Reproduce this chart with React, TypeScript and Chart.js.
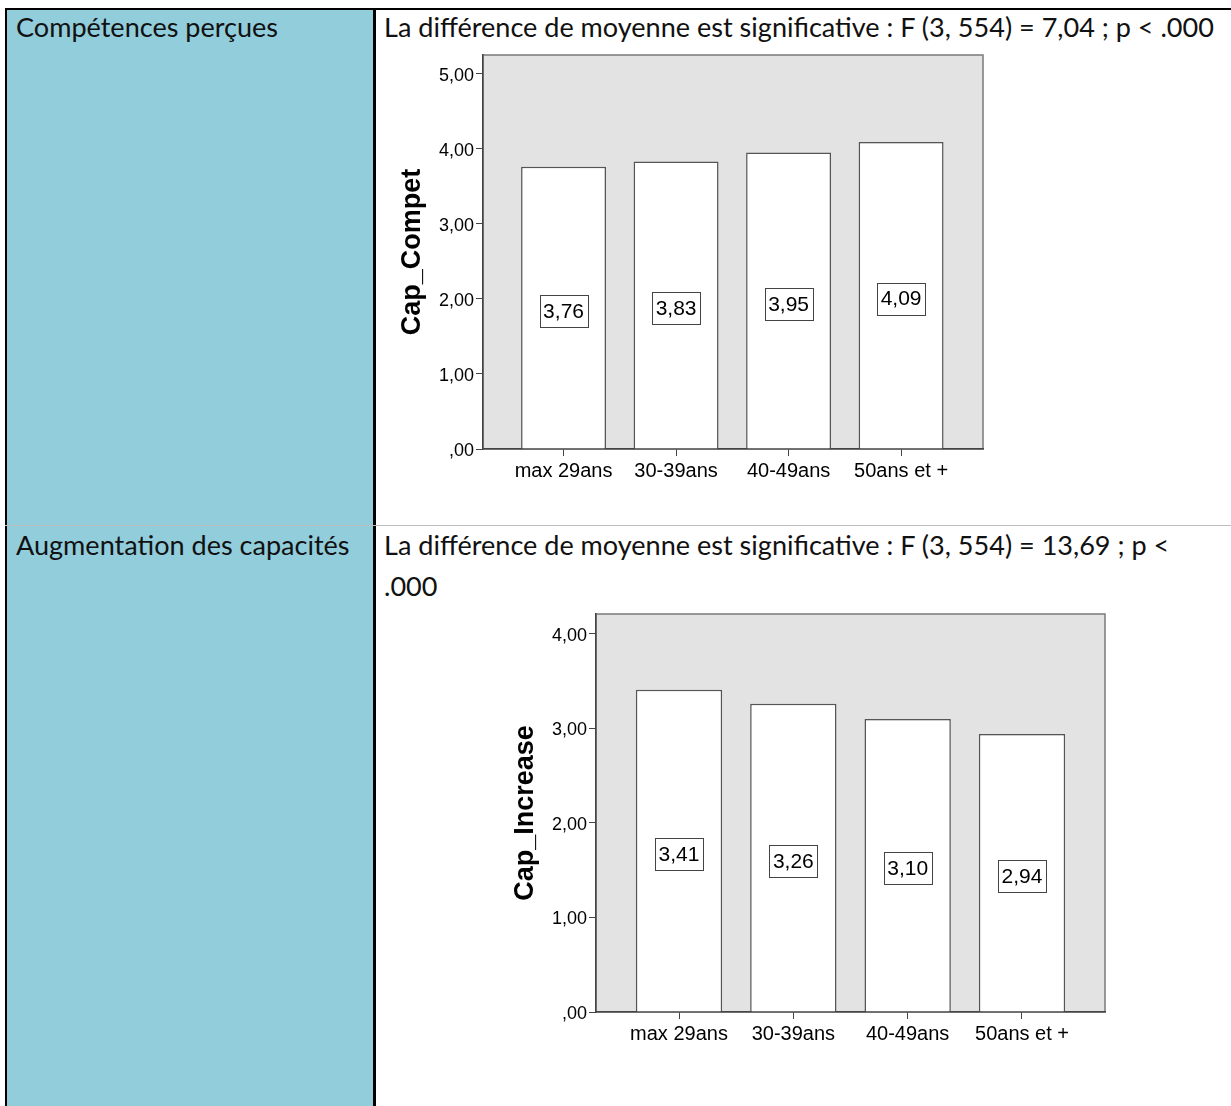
import React, { useEffect, useRef } from "react";
import { Chart, registerables } from "chart.js";

Chart.register(...registerables);

// ---- data ----
const categories = ["max 29ans", "30-39ans", "40-49ans", "50ans et +"];
const competValues = [3.76, 3.83, 3.95, 4.09];
const increaseValues = [3.41, 3.26, 3.1, 2.94];
const competTicks = [0, 1, 2, 3, 4, 5];
const increaseTicks = [0, 1, 2, 3, 4];
const rowLabels = ["Compétences perçues", "Augmentation des capacités"];
const statLine1 = "La différence de moyenne est significative : F (3, 554) = 7,04 ; p < .000";
const statLine2a = "La différence de moyenne est significative : F (3, 554) = 13,69 ; p <";
const statLine2b = ".000";
const yTitles = ["Cap_Compet", "Cap_Increase"];

const FONT = '"Liberation Sans", Arial, sans-serif';
const TEXT_FONT = 'Lato, "Noto Sans", sans-serif';

function fmt(v: number): string {
  const s = v.toFixed(2).replace(".", ",");
  return s.startsWith("0") ? s.slice(1) : s;
}

const framePlugin = {
  id: "frame",
  beforeDraw(chart: any) {
    const { ctx, chartArea: a } = chart;
    ctx.save();
    ctx.fillStyle = "#e3e3e3";
    ctx.fillRect(a.left, a.top, a.right - a.left, a.bottom - a.top);
    ctx.strokeStyle = "#7a7a7a";
    ctx.lineWidth = 1.5;
    ctx.strokeRect(a.left, a.top, a.right - a.left, a.bottom - a.top);
    ctx.restore();
  },
};

const labelPlugin = {
  id: "boxLabels",
  afterDatasetsDraw(chart: any) {
    const { ctx } = chart;
    const ys = chart.scales.y;
    const meta = chart.getDatasetMeta(0);
    const data = chart.data.datasets[0].data as any[];
    ctx.save();
    ctx.font = `21px ${FONT}`;
    ctx.textAlign = "center";
    ctx.textBaseline = "middle";
    meta.data.forEach((el: any, i: number) => {
      const v = data[i].y as number;
      const t = fmt(v);
      const y = ys.getPixelForValue(v / 2) + 3;
      const x = el.x;
      const w = ctx.measureText(t).width;
      const bw = Math.round(w + 7);
      const bh = 32;
      const bx = Math.round(x - bw / 2) + 0.5;
      const by = Math.round(y - bh / 2) + 0.5;
      ctx.fillStyle = "#ffffff";
      ctx.fillRect(bx, by, bw, bh);
      ctx.strokeStyle = "#444";
      ctx.lineWidth = 1;
      ctx.strokeRect(bx, by, bw, bh);
      ctx.fillStyle = "#000";
      ctx.fillText(t, x, y + 1);
    });
    ctx.restore();
  },
};

type Cfg = {
  values: number[];
  ticks: number[];
  yMax: number;
  xMin: number;
  xMax: number;
  title: string;
  yWidth: number;
  xHeight: number;
  titlePad: number;
  padTop: number;
  padRight: number;
};

function buildConfig(p: Cfg): any {
  return {
    type: "bar",
    data: {
      datasets: [
        {
          data: p.values.map((v, i) => ({ x: i, y: v })),
          backgroundColor: "#ffffff",
          borderColor: "#555555",
          borderWidth: 1.5,
          borderSkipped: "start",
          barPercentage: 0.755,
          categoryPercentage: 1,
        },
      ],
    },
    options: {
      animation: false,
      responsive: false,
      devicePixelRatio: 1,
      layout: { padding: { top: p.padTop, right: p.padRight, left: 0, bottom: 0 } },
      plugins: { legend: { display: false }, tooltip: { enabled: false } },
      scales: {
        x: {
          type: "linear",
          offset: false,
          grace: 0,
          min: p.xMin,
          max: p.xMax,
          grid: { display: true, offset: false, drawOnChartArea: false, drawTicks: true, tickLength: 7, color: "#444", lineWidth: 1 },
          border: { display: true, color: "#444", width: 1.5 },
          ticks: {
            autoSkip: false,
            maxRotation: 0,
            minRotation: 0,
            padding: 3,
            color: "#000",
            font: { family: FONT, size: 20 },
            callback: (v: any) => categories[Math.round(v)] ?? "",
          },
          afterBuildTicks: (s: any) => {
            s.ticks = categories.map((_, i) => ({ value: i }));
          },
          afterFit: (s: any) => {
            s.height = p.xHeight;
          },
        },
        y: {
          type: "linear",
          min: 0,
          max: p.yMax,
          grid: { display: true, drawOnChartArea: false, drawTicks: true, tickLength: 7, color: "#444", lineWidth: 1 },
          border: { display: true, color: "#444", width: 1.5 },
          ticks: {
            padding: 2,
            labelOffset: 2,
            color: "#000",
            font: { family: FONT, size: 18 },
            callback: (v: any) => fmt(Number(v)),
          },
          afterBuildTicks: (s: any) => {
            s.ticks = p.ticks.map((v) => ({ value: v }));
          },
          title: {
            display: true,
            text: p.title,
            color: "#000",
            font: { family: FONT, size: 27, weight: "bold" },
            padding: { top: p.titlePad, bottom: 0 },
          },
          afterFit: (s: any) => {
            s.width = p.yWidth;
          },
        },
      },
    },
    plugins: [framePlugin, labelPlugin],
  };
}

function BarChart(props: { cfg: Cfg; left: number; top: number; width: number; height: number }) {
  const ref = useRef<HTMLCanvasElement | null>(null);
  useEffect(() => {
    if (!ref.current) return;
    const chart = new Chart(ref.current, buildConfig(props.cfg));
    return () => chart.destroy();
  }, []);
  return (
    <canvas
      ref={ref}
      width={props.width}
      height={props.height}
      style={{ position: "absolute", left: props.left, top: props.top }}
    />
  );
}

const textStyle = (left: number, top: number): React.CSSProperties => ({
  position: "absolute",
  left,
  top,
  fontFamily: TEXT_FONT,
  fontSize: 27.05,
  lineHeight: "32px",
  color: "#111",
  whiteSpace: "nowrap",
});

export default function App() {
  return (
    <div
      style={{
        position: "absolute",
        left: 0,
        top: 0,
        width: 1231,
        height: 1106,
        overflow: "hidden",
        background: "#ffffff",
      }}
    >
      {/* cyan left column */}
      <div style={{ position: "absolute", left: 7, top: 10, width: 366, height: 1096, background: "#92cddc" }} />
      {/* borders */}
      <div style={{ position: "absolute", left: 5, top: 8, width: 1226, height: 2, background: "#000" }} />
      <div style={{ position: "absolute", left: 5, top: 8, width: 2, height: 1098, background: "#000" }} />
      <div style={{ position: "absolute", left: 373, top: 8, width: 3, height: 1098, background: "#000" }} />
      <div style={{ position: "absolute", left: 5, top: 525, width: 1226, height: 1, background: "#bdbdbd" }} />

      {/* texts */}
      <div style={textStyle(16, 11)}>{rowLabels[0]}</div>
      <div style={textStyle(384, 11)}>{statLine1}</div>
      <div style={textStyle(16, 529)}>{rowLabels[1]}</div>
      <div style={textStyle(384, 529)}>{statLine2a}</div>
      <div style={textStyle(384, 570)}>{statLine2b}</div>

      <BarChart
        left={390}
        top={40}
        width={610}
        height={470}
        cfg={{
          values: competValues,
          ticks: competTicks,
          yMax: 5.25,
          xMin: -0.716,
          xMax: 3.728,
          title: yTitles[0],
          yWidth: 93,
          xHeight: 61,
          titlePad: 6,
          padTop: 15,
          padRight: 17,
        }}
      />
      <BarChart
        left={500}
        top={600}
        width={620}
        height={480}
        cfg={{
          values: increaseValues,
          ticks: increaseTicks,
          yMax: 4.21,
          xMin: -0.726,
          xMax: 3.726,
          title: yTitles[1],
          yWidth: 96,
          xHeight: 68,
          titlePad: 9,
          padTop: 14,
          padRight: 15,
        }}
      />
    </div>
  );
}
